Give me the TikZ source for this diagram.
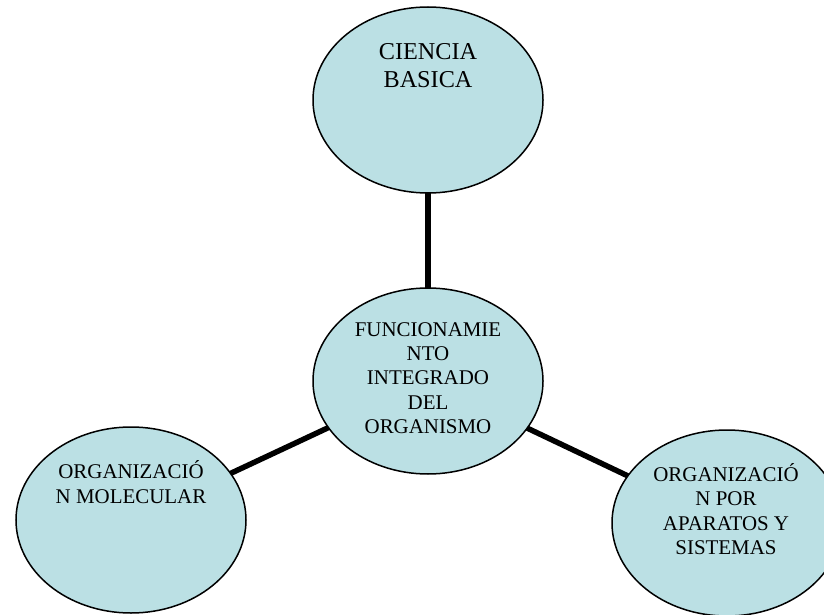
\documentclass[tikz,border=0pt]{standalone}
\usepackage{fontspec}
\setmainfont{Liberation Serif}
\usetikzlibrary{shapes.geometric}
\definecolor{bubble}{RGB}{187,224,228}
\tikzset{
  bubble/.style={ellipse, draw=black, line width=1.5bp, fill=bubble,
    minimum width=230bp, minimum height=186bp, inner sep=0pt, outer sep=0pt},
  lbl/.style={align=center, inner sep=0pt, text=black,
    font=\fontsize{21}{24.4}\selectfont},
  toplbl/.style={align=center, inner sep=0pt, text=black,
    font=\fontsize{24.3}{28}\selectfont},
  link/.style={line width=5.5bp, draw=black}
}
\begin{document}
\begin{tikzpicture}[x=1bp,y=-1bp]
\clip (0,0) rectangle (824,615);
\useasboundingbox (0,0) rectangle (824,615);
\node[bubble] (top) at (428,100) {};
\node[bubble] (mid) at (428,381) {};
\node[bubble] (left) at (131,520) {};
\node[bubble] (right) at (727,523) {};
\draw[link] (mid) -- (top);
\draw[link] (mid) -- (left);
\draw[link] (mid) -- (right);
\node[toplbl] (ttop) at (428,66) {CIENCIA\\BASICA};
\node[lbl] (tmid) at (428,378) {FUNCIONAMIE\\NTO\\INTEGRADO\\DEL\\ORGANISMO};
\node[lbl] (tleft) at (131,482) {ORGANIZACIÓ\\N MOLECULAR};
\node[lbl] (tright) at (726,509) {ORGANIZACIÓ\\N POR\\APARATOS Y\\SISTEMAS};
\end{tikzpicture}
\end{document}
